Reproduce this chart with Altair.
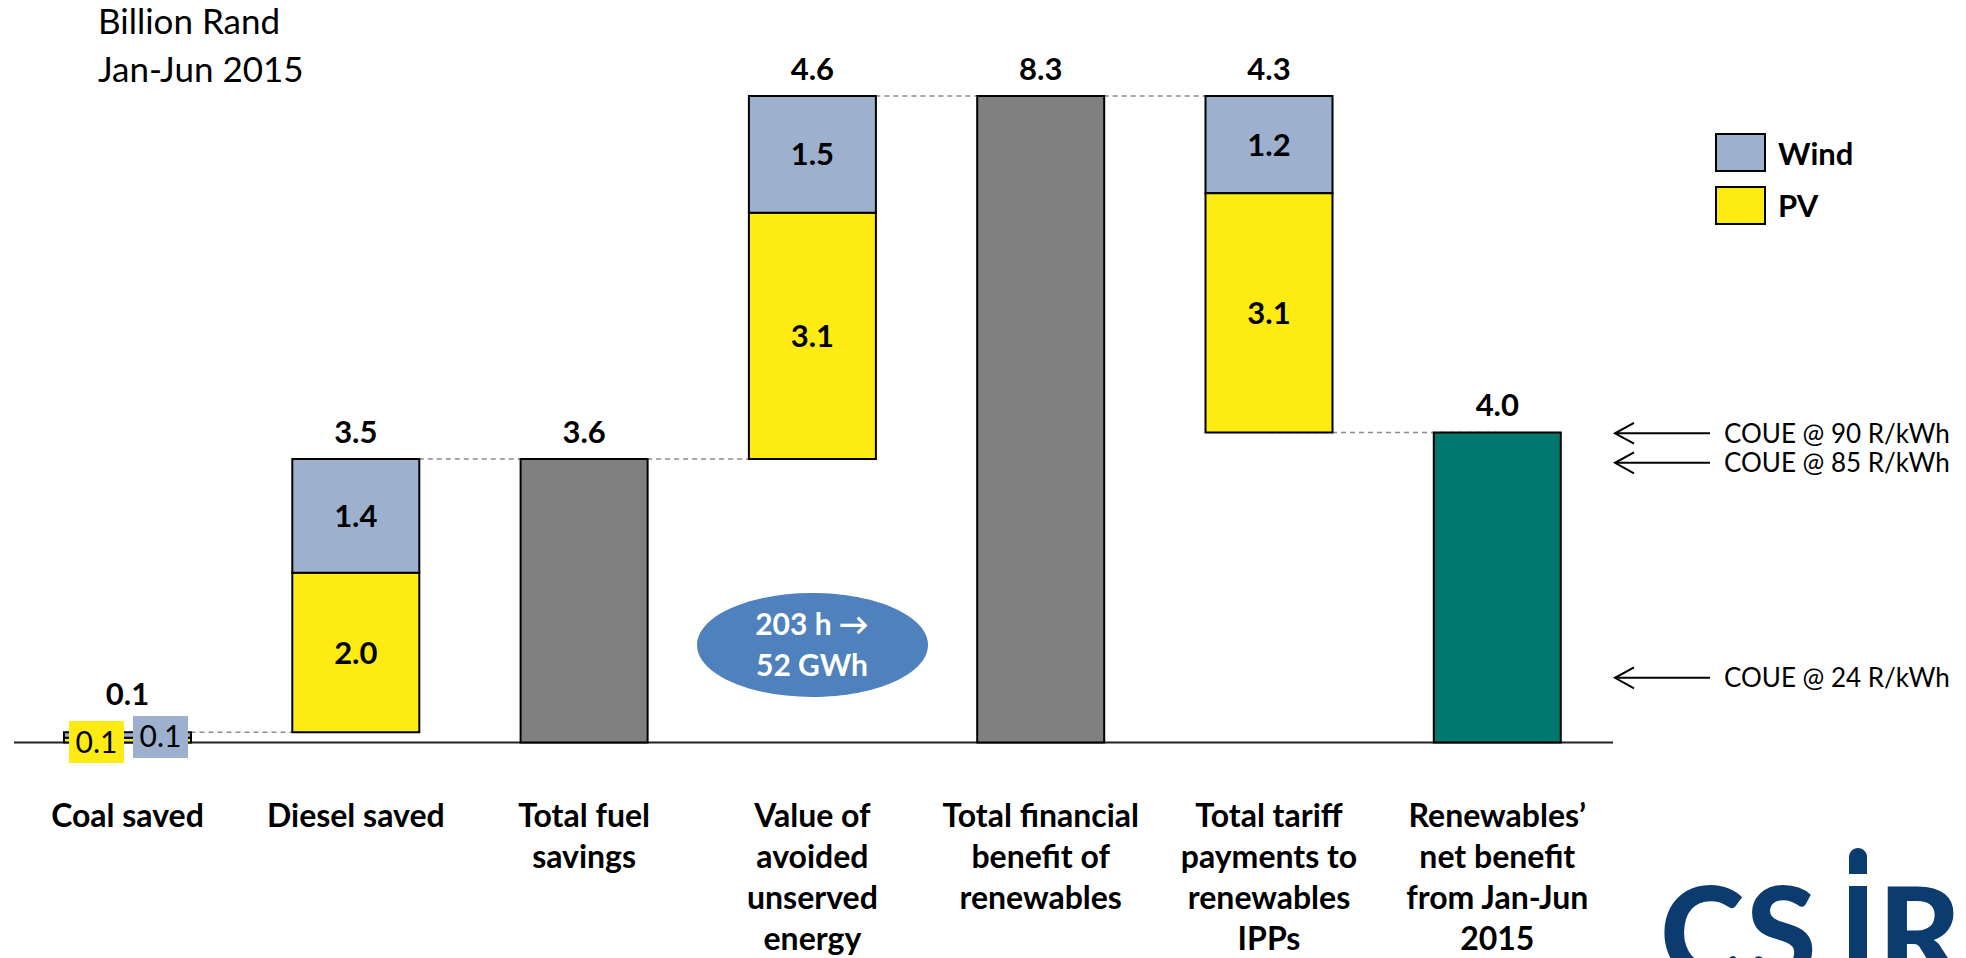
import altair as alt
import pandas as pd

# ---------------- data ----------------
categories = [
    "Coal saved",
    "Diesel saved",
    "Total fuel savings",
    "Value of avoided unserved energy",
    "Total financial benefit of renewables",
    "Total tariff payments to renewables IPPs",
    "Renewables’ net benefit from Jan-Jun 2015",
]
category_lines = [
    ["Coal saved"],
    ["Diesel saved"],
    ["Total fuel", "savings"],
    ["Value of", "avoided", "unserved", "energy"],
    ["Total financial", "benefit of", "renewables"],
    ["Total tariff", "payments to", "renewables", "IPPs"],
    ["Renewables’", "net benefit", "from Jan-Jun", "2015"],
]
step_kind = ["up", "up", "total", "up", "total", "down", "net"]
pv_values = [0.06, 2.05, None, 3.16, None, 3.07, None]
wind_values = [0.07, 1.46, None, 1.50, None, 1.25, None]
total_values = [None, None, 3.64, None, 8.30, None, 3.98]
top_labels = ["0.1", "3.5", "3.6", "4.6", "8.3", "4.3", "4.0"]
pv_labels = ["0.1", "2.0", None, "3.1", None, "3.1", None]
wind_labels = ["0.1", "1.4", None, "1.5", None, "1.2", None]
coue_labels = ["COUE @ 90 R/kWh", "COUE @ 85 R/kWh", "COUE @ 24 R/kWh"]
coue_values = [3.97, 3.59, 0.83]
series_names = ["Wind", "PV", "Total", "Net"]
series_colors = ["#9DB0CE", "#FFEB14", "#808080", "#00786E"]
logo_letters = ["C", "S", "R"]

FONT = "Lato"
LOGO = "#0B3B6F"

# ---------------- build waterfall tables ----------------
seg_rows, top_rows, conn_rows = [], [], []
level = 0.0
for i, c in enumerate(categories):
    k = step_kind[i]
    if k == "up":
        b = level
        seg_rows.append(dict(cat=c, series="PV", y0=b, y1=b + pv_values[i], label=pv_labels[i]))
        seg_rows.append(dict(cat=c, series="Wind", y0=b + pv_values[i],
                             y1=b + pv_values[i] + wind_values[i], label=wind_labels[i]))
        top = b + pv_values[i] + wind_values[i]
        level = top
    elif k == "down":
        top = level
        seg_rows.append(dict(cat=c, series="Wind", y0=level - wind_values[i], y1=level, label=wind_labels[i]))
        seg_rows.append(dict(cat=c, series="PV", y0=level - wind_values[i] - pv_values[i],
                             y1=level - wind_values[i], label=pv_labels[i]))
        level = level - wind_values[i] - pv_values[i]
    else:
        seg_rows.append(dict(cat=c, series="Total" if k == "total" else "Net",
                             y0=0.0, y1=total_values[i], label=None))
        top = total_values[i]
        level = total_values[i]
    top_rows.append(dict(cat=c, y=top, label=top_labels[i], first=(i == 0)))
    if i < len(categories) - 1:
        conn_rows.append(dict(cat=c, cat2=categories[i + 1], y=level))

segs = pd.DataFrame(seg_rows)
segs["mid"] = (segs["y0"] + segs["y1"]) / 2
tops = pd.DataFrame(top_rows)
conns = pd.DataFrame(conn_rows)
cat_df = pd.DataFrame({"cat": categories, "lines": category_lines})
coue_df = pd.DataFrame({"label": coue_labels, "v": coue_values})
dummy = pd.DataFrame({"a": [0]})

xs = alt.Scale(domain=categories, range=[56, 1552.8], paddingInner=0.4437, paddingOuter=0)
ys = alt.Scale(domain=[0, max(v for v in total_values if v is not None)], range=[734.5, 88],
               nice=False, zero=False)
X = alt.X("cat:N", scale=xs, axis=None, sort=categories)
Y = lambda f: alt.Y(f, scale=ys, axis=None)

# ---------------- layers ----------------
connectors = alt.Chart(conns).mark_rule(color="#8C8C8C", strokeWidth=1.5, strokeDash=[5, 4]).encode(
    x=X, x2=alt.X2("cat2:N"), y=Y("y:Q"))

bars = alt.Chart(segs).mark_bar(stroke="black", strokeWidth=2, opacity=1).encode(
    x=X, y=Y("y0:Q"), y2=alt.Y2("y1:Q"),
    color=alt.Color("series:N", scale=alt.Scale(domain=series_names, range=series_colors), legend=None))

seg_text = alt.Chart(segs[(segs["cat"] != categories[0]) & segs["label"].notna()]).mark_text(
    font=FONT, fontSize=31, fontWeight="bold", color="black", baseline="alphabetic", dy=11).encode(
    x=X, y=Y("mid:Q"), text="label:N")

top_text = alt.Chart(tops[~tops["first"]]).mark_text(
    font=FONT, fontSize=31, fontWeight="bold", color="black", baseline="alphabetic", dy=-16).encode(
    x=X, y=Y("y:Q"), text="label:N")
top_text_first = alt.Chart(tops[tops["first"]]).mark_text(
    font=FONT, fontSize=31, fontWeight="bold", color="black", baseline="alphabetic", dy=-27).encode(
    x=X, y=Y("y:Q"), text="label:N")

cat_text = alt.Chart(cat_df).mark_text(
    font=FONT, fontSize=32, fontWeight="bold", color="black", baseline="alphabetic", lineHeight=41).encode(
    x=X, y=alt.value(819), text="lines")

axis_line = alt.Chart(dummy).mark_rule(color="#222222", strokeWidth=2).encode(
    y=alt.Y(datum=0, scale=ys, axis=None), x=alt.value(6), x2=alt.value(1605))


def box(x1, x2, y1, y2, fill, stroke=None, radius=0):
    kw = dict(fill=fill, opacity=1)
    if stroke:
        kw.update(stroke=stroke, strokeWidth=2)
    if radius:
        kw.update(cornerRadiusTopLeft=radius, cornerRadiusTopRight=radius)
    return alt.Chart(dummy).mark_rect(**kw).encode(
        x=alt.value(x1), x2=alt.value(x2), y=alt.value(y1), y2=alt.value(y2))


def label(s, x, y, size, weight="normal", color="black", align="left"):
    return alt.Chart(dummy).mark_text(
        text=s, font=FONT, fontSize=size, fontWeight=weight, color=color, align=align,
        baseline="alphabetic").encode(x=alt.value(x), y=alt.value(y))


# coal data-label boxes
coal_pv_box = box(61, 116, 713, 755, series_colors[1])
coal_pv_txt = label(pv_labels[0], 88.5, 745, 30, align="center")
coal_w_box = box(125, 180, 708, 750, series_colors[0])
coal_w_txt = label(wind_labels[0], 152.5, 739, 30, align="center")

# title
title1 = label("Billion Rand", 90, 26, 35)
title2 = label("Jan-Jun 2015", 90, 74, 35)

# legend
leg_w = box(1708, 1757, 126, 163, series_colors[0], "black")
leg_p = box(1708, 1757, 179, 216, series_colors[1], "black")
leg_wt = label("Wind", 1770, 157, 31, "bold")
leg_pt = label("PV", 1770, 209, 31, "bold")

# ellipse annotation
ry = 0.45
k = 0.5523
ellipse_path = (f"M-1,0 C-1,{-ry*k:.4f} {-k:.4f},{-ry} 0,{-ry} C{k:.4f},{-ry} 1,{-ry*k:.4f} 1,0 "
                f"C1,{ry*k:.4f} {k:.4f},{ry} 0,{ry} C{-k:.4f},{ry} -1,{ry*k:.4f} -1,0 Z")
ellipse = alt.Chart(dummy).mark_point(shape=ellipse_path, filled=True, fill="#4F81BD", opacity=1,
                                      size=231 ** 2, strokeWidth=0).encode(
    x=alt.value(804.5), y=alt.value(637))
ell_t1 = label("203 h \u2192", 804, 627, 30, "bold", "white", "center")
ell_t2 = label("52 GWh", 804, 668, 30, "bold", "white", "center")

# COUE arrows
shafts = alt.Chart(coue_df).mark_rule(color="black", strokeWidth=2).encode(
    y=Y("v:Q"), x=alt.value(1607), x2=alt.value(1702))
heads = alt.Chart(coue_df).mark_point(shape="M1,-0.55 L0,0 L1,0.55", filled=False, color="black",
                                      strokeWidth=2, size=38 ** 2, opacity=1).encode(
    y=Y("v:Q"), x=alt.value(1607))
coue_text = alt.Chart(coue_df).mark_text(font=FONT, fontSize=26, color="black", align="left",
                                         baseline="alphabetic", dy=9.5).encode(
    y=Y("v:Q"), x=alt.value(1716), text="label:N")

# CSIR logo (partially visible at bottom right)
logo_layers = []
for ch, lx in zip(logo_letters, [1652, 1738, 1870]):
    logo_layers.append(alt.Chart(dummy).mark_text(
        text=ch, font=FONT, fontSize=128, fontWeight=900, color=LOGO, align="left",
        baseline="alphabetic").encode(x=alt.value(lx), y=alt.value(971)))
logo_dot = box(1841, 1859, 840, 866, LOGO, radius=9)
logo_stem = box(1841, 1859, 878, 960, LOGO)

chart = alt.layer(
    connectors, axis_line, bars, seg_text, top_text, top_text_first, cat_text,
    coal_pv_box, coal_pv_txt, coal_w_box, coal_w_txt,
    title1, title2, leg_w, leg_p, leg_wt, leg_pt,
    ellipse, ell_t1, ell_t2, shafts, heads, coue_text,
    *logo_layers, logo_dot, logo_stem,
).properties(
    width=1950, height=950, padding=0,
    autosize=alt.AutoSizeParams(type="none"),
    background="white",
).configure_view(stroke=None)

chart.save("out.html", embed_options={"renderer": "svg", "actions": False})
